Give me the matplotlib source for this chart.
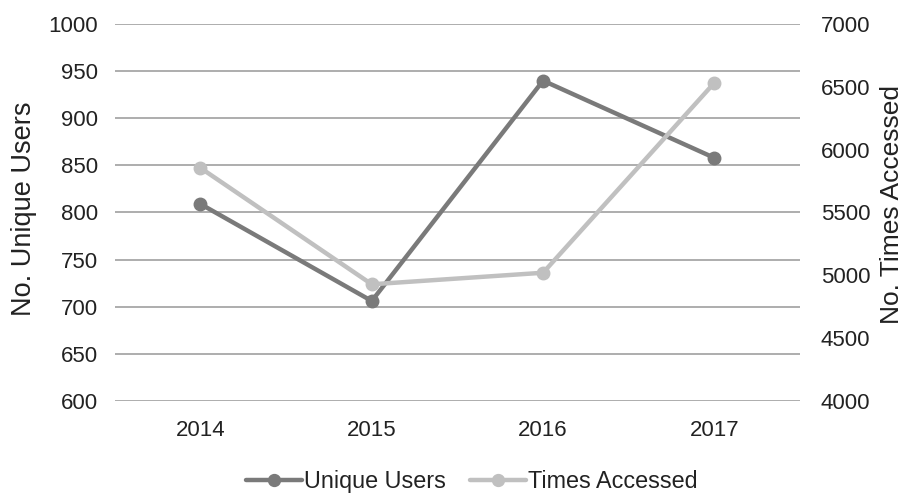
import matplotlib.pyplot as plt

years = ['2014', '2015', '2016', '2017']
unique_users = [809, 706, 940, 858]
times_accessed = [5855, 4928, 5020, 6533]

plt.rcParams['font.family'] = ['Liberation Sans', 'DejaVu Sans']

fig = plt.figure(figsize=(9.04, 4.93), dpi=100)
ax = fig.add_axes([0.127, 0.187, 0.758, 0.764])
ax2 = ax.twinx()

x = range(len(years))
ax.set_ylim(600, 1000)
ax.set_yticks(range(600, 1001, 50))
ax2.set_ylim(4000, 7000)
ax2.set_yticks(range(4000, 7001, 500))
ax.set_xlim(-0.5, 3.5)
ax.set_xticks(list(x))
ax.set_xticklabels(years)

ax.grid(axis='y', color='#a0a0a0', lw=1.2)
ax.set_axisbelow(True)

l1, = ax.plot(x, unique_users, color='#7a7a7a', lw=3.2, marker='o', ms=9,
              solid_capstyle='round', label='Unique Users')
l2, = ax2.plot(x, times_accessed, color='#c0c0c0', lw=3.2, marker='o', ms=9,
               solid_capstyle='round', label='Times Accessed')

for a in (ax, ax2):
    for s in a.spines.values():
        s.set_visible(False)
    a.tick_params(length=0, labelsize=16, colors='#222222')
ax.tick_params(axis='y', pad=12)
ax2.tick_params(axis='y', pad=15)
ax.tick_params(axis='x', pad=14)

ax.set_ylabel('No. Unique Users', fontsize=19.5, color='#222222')
ax2.set_ylabel('No. Times Accessed', fontsize=19, color='#222222')
ax.yaxis.set_label_coords(-0.113, 0.51)
ax2.yaxis.set_label_coords(1.116, 0.52)

fig.legend(handles=[l1, l2], loc='center', bbox_to_anchor=(0.522, 0.024),
           ncol=2, frameon=False, fontsize=16.8, handlelength=2.4,
           handletextpad=0.1, columnspacing=1.0, labelcolor='#222222',
           markerscale=0.95, borderpad=0)

fig.savefig('out.png', dpi=100)
